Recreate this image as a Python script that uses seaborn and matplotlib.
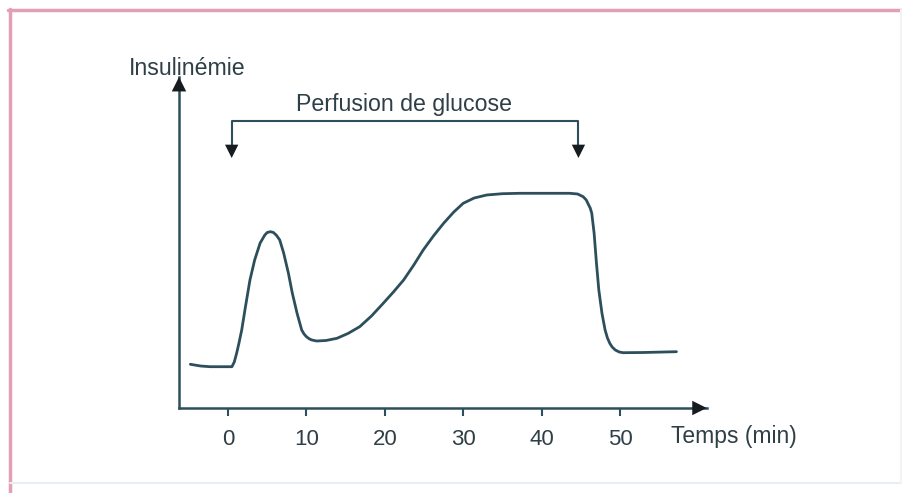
import numpy as np
import matplotlib
matplotlib.use('Agg')
import matplotlib.pyplot as plt
import seaborn as sns
from matplotlib.lines import Line2D

# temps (min) et insulinémie (unités arbitraires)
temps = [-4.8, -3.5, -2.3, 0.5, 0.8, 1.1, 1.4, 1.75, 2.2, 2.8, 3.4, 4.1, 4.7, 5.0,
         5.4, 5.8, 6.2, 6.6, 7.1, 7.7, 8.2, 8.8, 9.4, 9.7, 10.0, 10.4, 10.7, 11.3,
         12.5, 13.9, 15.3, 16.8, 18.3, 19.8, 21.1, 22.4, 23.7, 24.9, 26.2, 27.5,
         28.8, 30.0, 31.4, 33.0, 35.0, 37.2, 43.6, 44.6, 45.3, 45.7, 45.9, 46.2,
         46.4, 46.7, 47.0, 47.3, 47.7, 48.1, 48.4, 48.7, 49.0, 49.4, 49.9, 50.4,
         53.0, 57.2]
insulinemie = [4.37, 4.2, 4.13, 4.13, 4.6, 5.47, 6.5, 7.8, 10.0, 12.8, 14.8, 16.5,
               17.3, 17.55, 17.63, 17.55, 17.25, 16.8, 15.5, 13.5, 11.5, 9.5, 7.8,
               7.4, 7.13, 6.9, 6.8, 6.7, 6.75, 6.97, 7.45, 8.13, 9.2, 10.47, 11.6,
               12.8, 14.3, 15.8, 17.2, 18.47, 19.6, 20.47, 21.0, 21.3, 21.43, 21.47,
               21.47, 21.4, 21.13, 20.8, 20.47, 20.0, 19.47, 17.47, 14.47, 11.8, 9.47,
               7.8, 7.0, 6.47, 6.1, 5.8, 5.6, 5.53, 5.55, 5.63]
x_ticks = [0, 10, 20, 30, 40, 50]
perfusion_debut, perfusion_fin = 0.47, 44.7

line_col = '#2d4f5c'
text_col = '#2f3f47'
head_col = '#161c20'

sns.set_theme(style='white')
plt.rcParams['font.family'] = ['Liberation Sans', 'DejaVu Sans']

fig = plt.figure(figsize=(9.03, 4.93), dpi=100)
ax = fig.add_axes([179 / 903, 85 / 493, 527.7 / 903, 331 / 493])

sns.lineplot(x=temps, y=insulinemie, ax=ax, color=line_col, linewidth=2.0,
             solid_joinstyle='round', solid_capstyle='round')

ax.set_xlim(-6.25, 61.06)
ax.set_ylim(0, 33.1)
ax.set_xticks(x_ticks)
ax.set_xticklabels([str(t) for t in x_ticks])
ax.set_yticks([])
ax.tick_params(axis='x', direction='out', length=6, width=1.5, color=line_col,
               pad=9, labelsize=16, labelcolor=text_col, bottom=True)
for side in ['top', 'right']:
    ax.spines[side].set_visible(False)
for side in ['left', 'bottom']:
    ax.spines[side].set_color(line_col)
    ax.spines[side].set_linewidth(1.8)

# pointes des axes
arrow = dict(arrowstyle='-|>', color=head_col, lw=0, mutation_scale=26, shrinkA=0, shrinkB=0)
ax.annotate('', xy=(1, 0), xytext=(0.97, 0), xycoords='axes fraction', arrowprops=arrow)
ax.annotate('', xy=(0, 1), xytext=(0, 0.95), xycoords='axes fraction', arrowprops=arrow)

# accolade perfusion
y_barre, y_pointe = 28.7, 25.0
ax.plot([perfusion_debut, perfusion_fin], [y_barre, y_barre], color=line_col, lw=1.5,
        solid_capstyle='butt')
for t in [perfusion_debut, perfusion_fin]:
    ax.plot([t, t], [y_barre, y_pointe + 0.6], color=line_col, lw=1.5)
    ax.annotate('', xy=(t, y_pointe), xytext=(t, y_pointe + 1.2),
                arrowprops=dict(arrowstyle='-|>', color=head_col, lw=0,
                                mutation_scale=24, shrinkA=0, shrinkB=0))

fig.text(187 / 903, (493 - 75) / 493, 'Insulinémie', ha='center', va='baseline',
         fontsize=16.7, color=text_col)
fig.text(404 / 903, (493 - 111) / 493, 'Perfusion de glucose', ha='center', va='baseline',
         fontsize=16.7, color=text_col)
fig.text(671 / 903, (493 - 443) / 493, 'Temps (min)', ha='left', va='baseline',
         fontsize=16.5, color=text_col)

# cadre de la figure
fig.add_artist(Line2D([8 / 903, 1], [483 / 493, 483 / 493], transform=fig.transFigure,
                      color='#e2a0b5', lw=2.5))
fig.add_artist(Line2D([10 / 903, 10 / 903], [0, 484 / 493], transform=fig.transFigure,
                      color='#e2a0b5', lw=2.5))
fig.add_artist(Line2D([10 / 903, 1], [10 / 493, 10 / 493], transform=fig.transFigure,
                      color='#e9eef3', lw=1.5))
fig.add_artist(Line2D([901 / 903, 901 / 903], [10 / 493, 483 / 493], transform=fig.transFigure,
                      color='#f1f3f6', lw=1.5))

fig.savefig('out.png', dpi=100)
